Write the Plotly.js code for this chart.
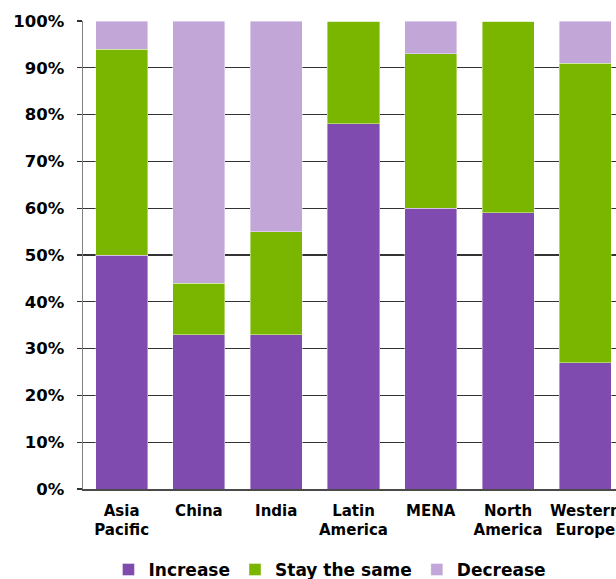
<!DOCTYPE html>
<html>
<head>
<meta charset="utf-8">
<script src="https://cdn.plot.ly/plotly-3.0.1.min.js"></script>
<style>
html,body{margin:0;padding:0;overflow:hidden;background:#fff;}
#chart{width:660px;height:579px;}
</style>
</head>
<body>
<div id="chart"></div>
<script>
var categories = ["Asia<br>Pacific", "China", "India", "Latin<br>America", "MENA", "North<br>America", "Western<br>Europe"];
var increase   = [50, 33, 33, 78, 60, 59, 27];
var stayTheSame = [44, 11, 22, 22, 33, 41, 64];
var decrease   = [6, 56, 45, 0, 7, 0, 9];
var yTickVals  = [0, 10, 20, 30, 40, 50, 60, 70, 80, 90, 100];
var yTickText  = ["0%", "10%", "20%", "30%", "40%", "50%", "60%", "70%", "80%", "90%", "100%"];

var FONT = "DejaVu Sans";
var lineStyle = {color: "rgba(255,255,255,0.55)", width: 0.75};

var traces = [
  {type: "bar", name: "Increase", x: categories, y: increase,
   marker: {color: "#804BAE", line: lineStyle}},
  {type: "bar", name: "Stay the same", x: categories, y: stayTheSame,
   marker: {color: "#7AB600", line: lineStyle}},
  {type: "bar", name: "Decrease", x: categories, y: decrease,
   marker: {color: "#C1A6D7", line: lineStyle}}
];

var layout = {
  width: 660, height: 579,
  margin: {l: 83, r: 36, t: 21, b: 90, autoexpand: false},
  barmode: "stack",
  bargap: 0.327,
  paper_bgcolor: "#ffffff",
  plot_bgcolor: "#ffffff",
  showlegend: true,
  hovermode: false,
  font: {family: FONT, color: "#000000", weight: "bold"},
  xaxis: {
    type: "category",
    showline: true, linecolor: "#4a4a4a", linewidth: 1.5,
    ticks: "", showgrid: false,
    tickfont: {family: FONT, size: 15, color: "#000", weight: "bold"},
    ticklabelstandoff: 7,
    automargin: false,
    fixedrange: true
  },
  yaxis: {
    range: [0, 100],
    tickvals: yTickVals, ticktext: yTickText,
    showline: true, linecolor: "#808080", linewidth: 1.5,
    ticks: "outside", ticklen: 5, tickcolor: "#333333", tickwidth: 1.2,
    showgrid: true, gridcolor: "#333333", gridwidth: 1.2,
    zeroline: false,
    tickfont: {family: FONT, size: 16.5, color: "#000", weight: "bold"},
    ticklabelstandoff: 9,
    automargin: false,
    fixedrange: true
  },
  legend: {
    orientation: "h",
    x: 0.4565, xanchor: "center",
    y: -0.173, yanchor: "middle",
    font: {family: FONT, size: 17, color: "#000", weight: "bold"},
    traceorder: "normal",
    itemclick: false, itemdoubleclick: false
  }
};

Plotly.newPlot("chart", traces, layout, {displayModeBar: false, staticPlot: true});
</script>
</body>
</html>
